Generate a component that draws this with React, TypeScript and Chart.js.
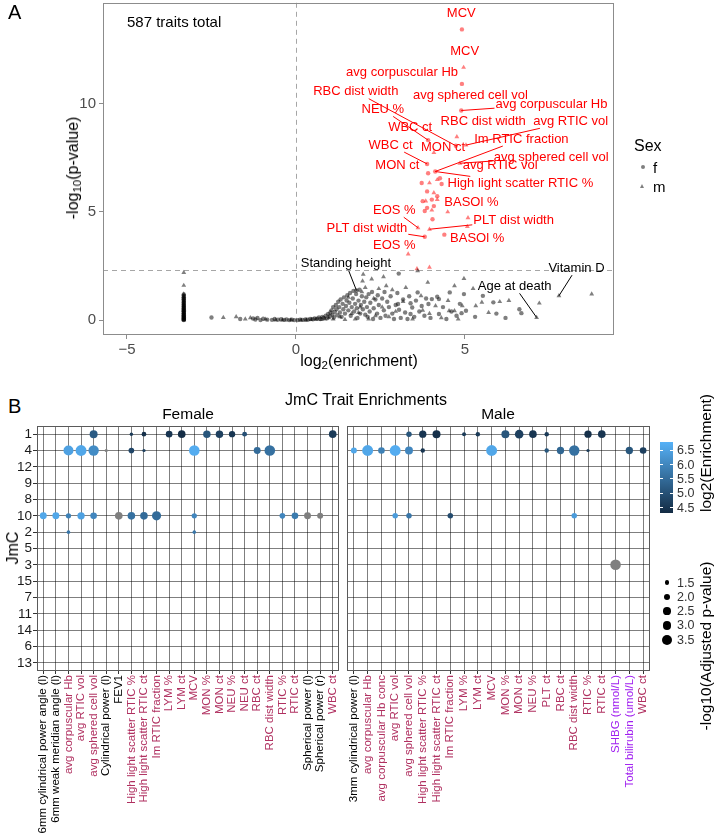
import React, { useEffect, useRef } from 'react';
import { Chart, registerables } from 'chart.js';
Chart.register(...registerables);

const FONT = '"Liberation Sans", Arial, Helvetica, sans-serif';

// ---------------- Panel A data ----------------
const xTicksA = [-5, 0, 5];
const yTicksA = [0, 5, 10];
const sigThreshold = 2.3;
const totalTraits = '587 traits total';

const stackX = -3.32;
const stackFemaleY = [0, 0.02, 0.04, 0.07, 0.1, 0.13, 0.16, 0.19, 0.22, 0.26, 0.3, 0.33, 0.37, 0.41, 0.45, 0.49, 0.53, 0.57, 0.62, 0.66, 0.7, 0.75, 0.8, 0.85, 0.9, 0.95, 1.0, 1.06, 1.12, 1.18];
const stackMaleY = [0.01, 0.05, 0.12, 0.2, 0.28, 0.36, 0.44, 0.52, 0.6, 0.68, 0.77, 0.88, 1.0, 1.1, 1.2, 1.6, 2.2];

const nsFemale: [number, number][] = [
  [-2.5, 0.12], [-1.65, 0.05], [-1.27, 0.07], [-1.2, 0.03], [-1.14, 0.1], [-1.05, 0.0], [-0.97, 0.06], [-0.85, 0.02], [-0.71, 0.01], [-0.63, 0.05], [-0.53, 0.02], [-0.44, 0.04], [-0.35, 0.01], [-0.28, 0.03], [-0.2, 0.0], [-0.12, 0.02], [-0.05, 0.0],
  [0.05, 0.0], [0.12, 0.02], [0.2, 0.01], [0.28, 0.03], [0.35, 0.02], [0.42, 0.05], [0.5, 0.04], [0.55, 0.08], [0.62, 0.06], [0.68, 0.12], [0.72, 0.05], [0.78, 0.15], [0.82, 0.1], [0.88, 0.2], [0.92, 0.08], [0.95, 0.28], [1.0, 0.18], [1.02, 0.35],
  [1.05, 0.45], [1.08, 0.25], [1.1, 0.6], [1.12, 0.12], [1.15, 0.38], [1.18, 0.7], [1.2, 0.5], [1.22, 0.22], [1.25, 0.85], [1.28, 0.6], [1.3, 0.35], [1.32, 0.95], [1.35, 0.15], [1.38, 0.75], [1.4, 0.5], [1.42, 1.05], [1.45, 0.3], [1.48, 0.65], [1.5, 0.9], [1.52, 1.15], [1.55, 0.45], [1.58, 0.8], [1.6, 1.25], [1.62, 0.2], [1.65, 0.6], [1.68, 1.0], [1.7, 1.35], [1.72, 0.4], [1.75, 0.75], [1.78, 1.2], [1.79, 1.37], [1.8, 0.55], [1.82, 0.1], [1.85, 0.9], [1.88, 1.4], [1.9, 0.3], [1.92, 0.7], [1.95, 1.1], [1.98, 0.5],
  [2.02, 0.85], [2.05, 0.25], [2.08, 1.05], [2.1, 0.6], [2.12, 0.15], [2.15, 1.2], [2.18, 0.4], [2.2, 0.8], [2.25, 1.3], [2.28, 0.05], [2.3, 0.55], [2.35, 0.95], [2.4, 0.3], [2.42, 1.15], [2.45, 0.7], [2.5, 0.1], [2.55, 1.0], [2.6, 0.45], [2.62, 1.3], [2.65, 0.2], [2.7, 0.85], [2.75, 0.6], [2.8, 1.1], [2.85, 0.3], [2.9, 0.05], [2.95, 0.7], [3.0, 1.25],
  [3.04, 2.15], [3.02, 0.74], [3.05, 0.48], [3.1, 0.1], [3.17, 0.95], [3.23, 0.35], [3.3, 0.05], [3.35, 1.1], [3.39, 0.78], [3.39, 0.28], [3.44, 0.58], [3.5, 0.15], [3.55, 0.9], [3.6, 1.28], [3.65, 0.4], [3.72, 0.65], [3.8, 0.2], [3.85, 1.0], [3.92, 0.74], [3.98, 0.1],
  [4.02, 0.97], [4.18, 1.08], [4.23, 0.97], [4.23, 0.28], [4.35, 0.6], [4.45, 0.05], [4.55, 1.28], [4.6, 0.4], [4.75, 0.2], [4.9, 0.32], [4.97, 1.2], [4.85, 0.75],
  [5.03, 0.43], [5.53, 1.12], [5.84, 0.82], [5.93, 0.3], [6.61, 0.5], [6.67, 0.32], [5.3, 0.15], [6.2, 0.1],
];
const nsMale: [number, number][] = [
  [-2.15, 0.12], [-1.77, 0.15], [-1.5, 0.05], [-1.35, 0.1], [-0.9, 0.04], [-0.6, 0.0], [-0.4, 0.0], [-0.15, 0.01],
  [0.15, 0.0], [0.3, 0.0], [0.45, 0.02], [0.6, 0.03], [0.75, 0.02], [0.85, 0.05], [0.97, 0.1],
  [1.1, 0.05], [1.3, 0.15], [1.45, 0.02], [1.55, 1.05], [1.65, 0.3], [1.75, 0.05], [1.85, 0.35], [1.9, 0.6], [1.95, 1.3], [1.99, 2.12], [1.97, 1.8],
  [2.05, 1.5], [2.15, 0.05], [2.24, 1.9], [2.3, 1.0], [2.35, 0.2], [2.45, 1.45], [2.55, 0.6], [2.59, 2.0], [2.67, 1.58], [2.75, 0.15], [2.85, 1.4], [2.95, 0.4],
  [3.17, 0.86], [3.25, 1.5], [3.45, 0.05], [3.6, 2.28], [3.7, 1.12], [3.75, 0.45], [3.9, 1.74], [3.95, 0.3],
  [4.13, 0.66], [4.3, 0.1], [4.53, 0.43], [4.69, 0.43], [4.69, 1.58], [4.92, 0.66], [4.97, 1.92], [4.5, 0.9], [4.8, 0.05],
  [5.24, 1.46], [5.32, 0.66], [5.5, 0.82], [6.03, 0.85], [6.3, 0.9], [7.2, 0.78], [7.78, 1.12], [8.75, 1.2], [7.12, 0.12], [5.7, 0.35],
];
const sigFemale: [number, number][] = [
  [4.91, 13.44], [4.91, 10.92], [4.89, 9.69], [4.73, 8.06], [3.91, 8.32], [3.88, 7.22], [4.12, 6.87], [3.91, 6.79], [4.26, 6.56], [3.72, 6.34], [4.31, 6.29], [3.88, 5.95], [4.18, 5.73], [3.75, 5.5], [4.02, 5.57], [3.88, 5.19], [4.08, 5.27], [3.81, 5.04], [4.04, 4.66], [3.81, 3.85], [4.39, 3.95],
];
const sigMale: [number, number][] = [
  [4.96, 11.68], [4.76, 8.47], [4.08, 7.74], [5.03, 8.09], [4.85, 7.25], [3.95, 6.34], [4.18, 6.49], [4.08, 5.88], [3.84, 5.5], [4.18, 5.57], [4.02, 5.08], [4.49, 5.0], [5.09, 4.73], [3.61, 4.27], [3.95, 4.2], [5.07, 4.32], [3.32, 3.05], [3.58, 2.37], [3.95, 2.44],
];

const annText = ['MCV', 'MCV', 'avg corpuscular Hb', 'RBC dist width', 'avg sphered cell vol', 'avg corpuscular Hb', 'NEU %', 'RBC dist width', 'avg RTIC vol', 'WBC ct', 'Im RTIC fraction', 'WBC ct', 'MON ct', 'avg sphered cell vol', 'avg RTIC vol', 'MON ct', 'High light scatter RTIC %', 'BASOl %', 'EOS %', 'PLT dist width', 'PLT dist width', 'BASOl %', 'EOS %', 'Standing height', 'Vitamin D', 'Age at death'];
const annX = [4.89, 4.99, 3.14, 1.77, 5.16, 7.56, 2.57, 5.54, 8.13, 3.38, 6.67, 2.80, 4.35, 7.55, 6.04, 3.0, 6.64, 5.19, 2.91, 6.44, 2.10, 5.36, 2.91, 1.48, 8.3, 6.47];
const annY = [14.17, 12.4, 11.45, 10.56, 10.41, 9.98, 9.74, 9.19, 9.19, 8.92, 8.37, 8.09, 7.98, 7.54, 7.15, 7.15, 6.32, 5.42, 5.08, 4.6, 4.26, 3.77, 3.44, 2.6, 2.4, 1.56];
const annToX = [NaN, NaN, NaN, 4.73, NaN, 4.89, 3.91, NaN, 5.03, NaN, 4.12, 3.88, NaN, 4.85, NaN, NaN, 4.12, NaN, 3.61, 3.95, 3.81, NaN, NaN, 1.79, 7.78, 7.12];
const annToY = [NaN, NaN, NaN, 8.06, NaN, 9.69, 8.32, NaN, 8.09, NaN, 6.87, 7.22, NaN, 7.25, NaN, NaN, 6.87, NaN, 4.27, 4.2, 3.85, NaN, NaN, 1.37, 1.12, 0.12];
const annSig = [true, true, true, true, true, true, true, true, true, true, true, true, true, true, true, true, true, true, true, true, true, true, true, false, false, false];

// ---------------- Panel B data ----------------
const rowLabels = ['1', '4', '12', '9', '8', '10', '2', '5', '3', '15', '7', '11', '14', '6', '13'];
const femaleTraits = ['6mm cylindrical power angle (l)', '6mm weak meridian angle (l)', 'avg corpuscular Hb', 'avg RTIC vol', 'avg sphered cell vol', 'Cylindrical power (l)', 'FEV1', 'High light scatter RTIC %', 'High light scatter RTIC ct', 'Im RTIC fraction', 'LYM %', 'LYM ct', 'MCV', 'MON %', 'MON ct', 'NEU %', 'NEU ct', 'RBC ct', 'RBC dist width', 'RTIC %', 'RTIC ct', 'Spherical power (l)', 'Spherical power (r)', 'WBC ct'];
const femaleTraitType = ['other', 'other', 'blood', 'blood', 'blood', 'other', 'other', 'blood', 'blood', 'blood', 'blood', 'blood', 'blood', 'blood', 'blood', 'blood', 'blood', 'blood', 'blood', 'blood', 'blood', 'other', 'other', 'blood'];
const maleTraits = ['3mm cylindrical power (l)', 'avg corpuscular Hb', 'avg corpuscular Hb conc', 'avg RTIC vol', 'avg sphered cell vol', 'High light scatter RTIC %', 'High light scatter RTIC ct', 'Im RTIC fraction', 'LYM %', 'LYM ct', 'MCV', 'MON %', 'MON ct', 'NEU %', 'PLT ct', 'RBC ct', 'RBC dist width', 'RTIC %', 'RTIC ct', 'SHBG (nmol/L)', 'Total bilirubin (umol/L)', 'WBC ct'];
const maleTraitType = ['other', 'blood', 'blood', 'blood', 'blood', 'blood', 'blood', 'blood', 'blood', 'blood', 'blood', 'blood', 'blood', 'blood', 'blood', 'blood', 'blood', 'blood', 'blood', 'biochem', 'biochem', 'blood'];

// [trait, JmC, log2(enrichment) (null = not finite), -log10(adjusted p)]
const femaleBubbles: [string, string, number | null, number][] = [
  ['avg sphered cell vol', '1', 5.2, 2.6], ['High light scatter RTIC %', '1', 4.6, 1.3], ['High light scatter RTIC ct', '1', 4.4, 1.55], ['LYM %', '1', 4.5, 2.1], ['LYM ct', '1', 4.35, 2.45], ['MON %', '1', 5.1, 2.4], ['MON ct', '1', 4.7, 2.4], ['NEU %', '1', 4.5, 2.0], ['NEU ct', '1', 5.0, 1.6], ['WBC ct', '1', 4.6, 2.45],
  ['avg corpuscular Hb', '4', 6.5, 3.5], ['avg RTIC vol', '4', 6.6, 4.0], ['avg sphered cell vol', '4', 6.1, 3.7], ['Cylindrical power (l)', '4', null, 1.26], ['High light scatter RTIC %', '4', 4.8, 1.8], ['High light scatter RTIC ct', '4', 4.7, 1.26], ['MCV', '4', 6.7, 3.8], ['RBC ct', '4', 5.5, 2.2], ['RBC dist width', '4', 5.6, 3.8],
  ['6mm cylindrical power angle (l)', '10', 6.6, 2.2], ['6mm weak meridian angle (l)', '10', 6.6, 2.2], ['avg corpuscular Hb', '10', 5.9, 1.7], ['avg RTIC vol', '10', 6.5, 2.35], ['avg sphered cell vol', '10', 6.0, 2.1], ['FEV1', '10', null, 2.45], ['High light scatter RTIC %', '10', 5.6, 2.45], ['High light scatter RTIC ct', '10', 5.5, 2.45], ['Im RTIC fraction', '10', 5.5, 3.1], ['MCV', '10', 6.0, 1.7], ['RTIC %', '10', 6.0, 1.8], ['RTIC ct', '10', 5.8, 2.1], ['Spherical power (l)', '10', null, 2.2], ['Spherical power (r)', '10', null, 1.9],
  ['avg corpuscular Hb', '2', 5.7, 1.33], ['MCV', '2', 5.7, 1.33],
];
const maleBubbles: [string, string, number | null, number][] = [
  ['avg sphered cell vol', '1', 5.1, 1.75], ['High light scatter RTIC %', '1', 4.5, 2.35], ['High light scatter RTIC ct', '1', 4.4, 2.6], ['LYM %', '1', 4.6, 1.4], ['LYM ct', '1', 4.6, 1.5], ['MON %', '1', 5.1, 2.6], ['MON ct', '1', 4.7, 2.85], ['NEU %', '1', 4.5, 2.45], ['PLT ct', '1', 4.6, 1.5], ['RTIC %', '1', 4.4, 2.35], ['RTIC ct', '1', 4.5, 2.45],
  ['3mm cylindrical power (l)', '4', 6.6, 1.9], ['avg corpuscular Hb', '4', 6.6, 4.0], ['avg corpuscular Hb conc', '4', 5.9, 2.1], ['avg RTIC vol', '4', 6.7, 4.0], ['avg sphered cell vol', '4', 6.0, 2.6], ['High light scatter RTIC %', '4', 4.5, 1.5], ['MCV', '4', 6.6, 4.0], ['PLT ct', '4', 5.1, 1.5], ['RBC ct', '4', 5.4, 2.35], ['RBC dist width', '4', 5.6, 3.7], ['RTIC %', '4', 4.6, 1.26], ['Total bilirubin (umol/L)', '4', 5.1, 2.35], ['WBC ct', '4', 4.7, 2.1],
  ['avg RTIC vol', '10', 6.4, 1.75], ['avg sphered cell vol', '10', 5.7, 1.75], ['Im RTIC fraction', '10', 4.9, 1.75], ['RBC dist width', '10', 6.4, 1.75],
  ['SHBG (nmol/L)', '3', null, 3.8],
];
const colorbarBreaks = [6.5, 6.0, 5.5, 5.0, 4.5];
const sizeBreaks = [1.5, 2.0, 2.5, 3.0, 3.5];

// ---------------- scales / styles ----------------
const ENR_MIN = 4.31;
const ENR_MAX = 6.79;
const LOW = [19, 43, 67];
const HIGH = [86, 177, 247];
const typeColor: Record<string, string> = { other: '#000000', blood: '#B03060', biochem: '#A020F0' };

function enrColor(v: number | null): string {
  if (v === null) return '#7f7f7f';
  const t = Math.max(0, Math.min(1, (v - ENR_MIN) / (ENR_MAX - ENR_MIN)));
  return `rgb(${LOW.map((c, i) => Math.round(c + (HIGH[i] - c) * t)).join(',')})`;
}
function sizeRadius(p: number): number {
  return Math.sqrt(10 * (p - 1));
}
const toPts = (a: [number, number][]) => a.map(([x, y]) => ({ x, y }));

const volcanoPlugin = {
  id: 'volcano',
  beforeDatasetsDraw(chart: any) {
    const { ctx, chartArea: a, scales } = chart;
    const x0 = Math.round(scales.x.getPixelForValue(0)) + 0.5;
    const yt = Math.round(scales.y.getPixelForValue(sigThreshold)) + 0.5;
    ctx.save();
    ctx.strokeStyle = '#a6a6a6';
    ctx.lineWidth = 1;
    ctx.setLineDash([5, 4]);
    ctx.beginPath();
    ctx.moveTo(x0, a.top);
    ctx.lineTo(x0, a.bottom);
    ctx.moveTo(a.left, yt);
    ctx.lineTo(a.right, yt);
    ctx.stroke();
    ctx.restore();
  },
  afterDatasetsDraw(chart: any) {
    const { ctx, scales } = chart;
    ctx.save();
    ctx.font = `13px ${FONT}`;
    ctx.textAlign = 'center';
    ctx.textBaseline = 'middle';
    annText.forEach((t, i) => {
      const col = annSig[i] ? '#ff0000' : '#000000';
      const px = scales.x.getPixelForValue(annX[i]);
      const py = scales.y.getPixelForValue(annY[i]);
      if (!isNaN(annToX[i])) {
        const tx = scales.x.getPixelForValue(annToX[i]);
        const ty = scales.y.getPixelForValue(annToY[i]);
        const hw = ctx.measureText(t).width / 2 + 1;
        const hh = 7;
        const dx = tx - px, dy = ty - py;
        const s = Math.min(dx === 0 ? Infinity : hw / Math.abs(dx), dy === 0 ? Infinity : hh / Math.abs(dy));
        if (s < 1) {
          ctx.strokeStyle = col;
          ctx.lineWidth = 1;
          ctx.beginPath();
          ctx.moveTo(px + dx * s, py + dy * s);
          ctx.lineTo(tx, ty);
          ctx.stroke();
        }
      }
      ctx.fillStyle = col;
      ctx.fillText(t, px, py);
    });
    ctx.restore();
  },
  afterDraw(chart: any) {
    const { ctx, chartArea: a } = chart;
    ctx.save();
    ctx.strokeStyle = '#8c8c8c';
    ctx.lineWidth = 1;
    ctx.strokeRect(Math.round(a.left) + 0.5, Math.round(a.top) + 0.5, Math.round(a.right - a.left) - 1, Math.round(a.bottom - a.top) - 1);
    ctx.restore();
  },
};

const boxPlugin = {
  id: 'box',
  afterDraw(chart: any) {
    const { ctx, chartArea: a } = chart;
    ctx.save();
    ctx.strokeStyle = '#5a5a5a';
    ctx.lineWidth = 1;
    ctx.strokeRect(Math.round(a.left) + 0.5, Math.round(a.top) + 0.5, Math.round(a.right - a.left) - 1, Math.round(a.bottom - a.top) - 1);
    ctx.restore();
  },
};

function makeVolcano(canvas: HTMLCanvasElement) {
  const ptBase = { borderWidth: 0, pointHoverRadius: 0 };
  const tickFont = { family: FONT, size: 15 };
  return new Chart(canvas, {
    type: 'scatter',
    data: {
      datasets: [
        { ...ptBase, data: toPts([...stackFemaleY.map((y) => [stackX, y] as [number, number]), ...nsFemale]), pointStyle: 'circle', pointRadius: 2.2, backgroundColor: 'rgba(0,0,0,0.5)' },
        { ...ptBase, data: toPts([...stackMaleY.map((y) => [stackX, y] as [number, number]), ...nsMale]), pointStyle: 'triangle', pointRadius: 2.8, backgroundColor: 'rgba(0,0,0,0.5)' },
        { ...ptBase, data: toPts(sigFemale), pointStyle: 'circle', pointRadius: 2.2, backgroundColor: 'rgba(255,0,0,0.5)' },
        { ...ptBase, data: toPts(sigMale), pointStyle: 'triangle', pointRadius: 2.8, backgroundColor: 'rgba(255,0,0,0.5)' },
      ] as any,
    },
    options: {
      animation: false,
      responsive: false,
      events: [],
      plugins: { legend: { display: false }, tooltip: { enabled: false } },
      layout: { padding: { left: 0, right: 100, top: 1, bottom: 0 } },
      scales: {
        x: {
          type: 'linear', min: -5.71, max: 9.41,
          afterBuildTicks: (s: any) => { s.ticks = xTicksA.map((v) => ({ value: v })); },
          afterFit: (s: any) => { s.height = 45; s.paddingLeft = 0; s.paddingRight = 0; },
          grid: { drawOnChartArea: false, drawTicks: true, tickLength: 4, tickColor: '#8c8c8c' },
          border: { display: false },
          ticks: { color: '#4d4d4d', font: tickFont, padding: 2, callback: (v: any) => (v < 0 ? '\u2212' + Math.abs(v) : String(v)) },
        },
        y: {
          type: 'linear', min: -0.69, max: 14.67,
          afterBuildTicks: (s: any) => { s.ticks = yTicksA.map((v) => ({ value: v })); },
          afterFit: (s: any) => { s.width = 103; s.paddingTop = 0; s.paddingBottom = 0; },
          grid: { drawOnChartArea: false, drawTicks: true, tickLength: 4, tickColor: '#8c8c8c' },
          border: { display: false },
          ticks: { color: '#4d4d4d', font: tickFont, padding: 3 },
        },
      },
    } as any,
    plugins: [volcanoPlugin],
  });
}

function makeBubble(canvas: HTMLCanvasElement, traits: string[], traitTypes: string[], bubbles: [string, string, number | null, number][], showY: boolean) {
  const GRID = 'rgba(0,0,0,0.5)';
  return new Chart(canvas, {
    type: 'bubble',
    data: {
      datasets: [{
        data: bubbles.map(([t, j, , p]) => ({ x: t, y: j, r: sizeRadius(p) })),
        backgroundColor: bubbles.map((b) => enrColor(b[2])),
        borderWidth: 0,
        hoverRadius: 0,
      }] as any,
    },
    options: {
      animation: false,
      responsive: false,
      events: [],
      plugins: { legend: { display: false }, tooltip: { enabled: false } },
      layout: { padding: { top: 6, left: showY ? 0 : 7, right: showY ? 11 : 10, bottom: 0 } },
      scales: {
        x: {
          type: 'category', labels: traits, offset: true, position: 'bottom',
          afterFit: (s: any) => { s.height = 169; s.paddingLeft = 0; s.paddingRight = 0; },
          grid: { color: GRID, tickColor: '#333333', tickLength: 3, offset: false, lineWidth: 1 },
          border: { display: false },
          ticks: {
            autoSkip: false, minRotation: 90, maxRotation: 90, padding: 1,
            font: { family: FONT, size: 11.5 },
            color: (ctx: any) => typeColor[traitTypes[ctx.index]] || '#000',
          },
        },
        y: {
          type: 'category', labels: rowLabels, offset: true,
          afterFit: (s: any) => { s.width = showY ? 37 : 0; s.paddingTop = 0; s.paddingBottom = 0; },
          grid: { color: GRID, tickColor: '#333333', tickLength: 4, drawTicks: showY, offset: false, lineWidth: 1 },
          border: { display: false },
          ticks: { display: showY, autoSkip: false, padding: 1, font: { family: FONT, size: 13.5 }, color: '#1a1a1a' },
        },
      },
    } as any,
    plugins: [boxPlugin],
  });
}

type TP = { x: number; y: number; size?: number; color?: string; anchor?: 'start' | 'middle' | 'end'; rotate?: number; children: React.ReactNode };
function Txt({ x, y, size = 15, color = '#000', anchor = 'middle', rotate = 0, children }: TP) {
  const tx = anchor === 'start' ? '0' : anchor === 'end' ? '-100%' : '-50%';
  return (
    <div style={{ position: 'absolute', left: x, top: y, transform: `translate(${tx}, -50%) rotate(${rotate}deg)`, fontSize: size, color, whiteSpace: 'nowrap', lineHeight: 1, fontFamily: FONT }}>
      {children}
    </div>
  );
}
const subStyle: React.CSSProperties = { fontSize: '0.72em', verticalAlign: '-0.3em', lineHeight: 0 };

export default function App() {
  const aRef = useRef<HTMLCanvasElement>(null);
  const fRef = useRef<HTMLCanvasElement>(null);
  const mRef = useRef<HTMLCanvasElement>(null);
  useEffect(() => {
    const charts = [
      makeVolcano(aRef.current!),
      makeBubble(fRef.current!, femaleTraits, femaleTraitType, femaleBubbles, true),
      makeBubble(mRef.current!, maleTraits, maleTraitType, maleBubbles, false),
    ];
    return () => charts.forEach((c) => c.destroy());
  }, []);

  const cbTop = 442, cbH = 71;
  const cbY = (v: number) => cbTop + cbH - ((v - ENR_MIN) / (ENR_MAX - ENR_MIN)) * cbH;

  return (
    <div style={{ position: 'absolute', left: 0, top: 0, width: 714, height: 840, background: '#fff', overflow: 'hidden', fontFamily: FONT }}>
      <canvas ref={aRef} width={714} height={380} style={{ position: 'absolute', left: 0, top: 0, width: 714, height: 380 }} />
      <canvas ref={fRef} width={350} height={420} style={{ position: 'absolute', left: 0, top: 420, width: 350, height: 420 }} />
      <canvas ref={mRef} width={320} height={420} style={{ position: 'absolute', left: 340, top: 420, width: 320, height: 420 }} />

      {/* Panel A texts */}
      <Txt x={8} y={12} size={20} anchor="start">A</Txt>
      <Txt x={127} y={21} size={15} anchor="start">{totalTraits}</Txt>
      <Txt x={359} y={361} size={16}>log<sub style={subStyle}>2</sub>(enrichment)</Txt>
      <Txt x={73} y={168} size={16} rotate={-90}>-log<sub style={subStyle}>10</sub>(p-value)</Txt>
      <Txt x={634} y={146} size={16} anchor="start">Sex</Txt>
      <div style={{ position: 'absolute', left: 641, top: 165, width: 4, height: 4, borderRadius: 2, background: 'rgba(0,0,0,0.5)' }} />
      <Txt x={653} y={167} size={15} anchor="start">f</Txt>
      <div style={{ position: 'absolute', left: 640, top: 184, width: 0, height: 0, borderLeft: '2.5px solid transparent', borderRight: '2.5px solid transparent', borderBottom: '4px solid rgba(0,0,0,0.5)' }} />
      <Txt x={653} y={186} size={15} anchor="start">m</Txt>

      {/* Panel B texts */}
      <Txt x={8} y={406} size={20} anchor="start">B</Txt>
      <Txt x={366} y={400} size={16}>JmC Trait Enrichments</Txt>
      <Txt x={188} y={414} size={15.5}>Female</Txt>
      <Txt x={498} y={414} size={15.5}>Male</Txt>
      <Txt x={13} y={548} size={16} rotate={-90}>JmC</Txt>

      {/* colour bar legend */}
      <div style={{ position: 'absolute', left: 660, top: cbTop, width: 13, height: cbH, background: `linear-gradient(to top, rgb(${LOW.join(',')}), rgb(${HIGH.join(',')}))` }} />
      {colorbarBreaks.map((v) => (
        <React.Fragment key={v}>
          <div style={{ position: 'absolute', left: 660, top: cbY(v) - 0.5, width: 3, height: 1, background: '#fff' }} />
          <div style={{ position: 'absolute', left: 670, top: cbY(v) - 0.5, width: 3, height: 1, background: '#fff' }} />
          <Txt x={677} y={cbY(v)} size={12.5} color="#333" anchor="start">{v.toFixed(1)}</Txt>
        </React.Fragment>
      ))}
      <Txt x={706} y={453} size={15.5} rotate={-90}>log2(Enrichment)</Txt>

      {/* size legend */}
      {sizeBreaks.map((p, i) => {
        const r = sizeRadius(p);
        const cy = 582.5 + i * 14.3;
        return (
          <React.Fragment key={p}>
            <div style={{ position: 'absolute', left: 667 - r, top: cy - r, width: 2 * r, height: 2 * r, borderRadius: '50%', background: '#000' }} />
            <Txt x={677} y={cy} size={12.5} color="#333" anchor="start">{p.toFixed(1)}</Txt>
          </React.Fragment>
        );
      })}
      <Txt x={706} y={646} size={15.5} rotate={-90}>-log10(Adjusted p-value)</Txt>
    </div>
  );
}
